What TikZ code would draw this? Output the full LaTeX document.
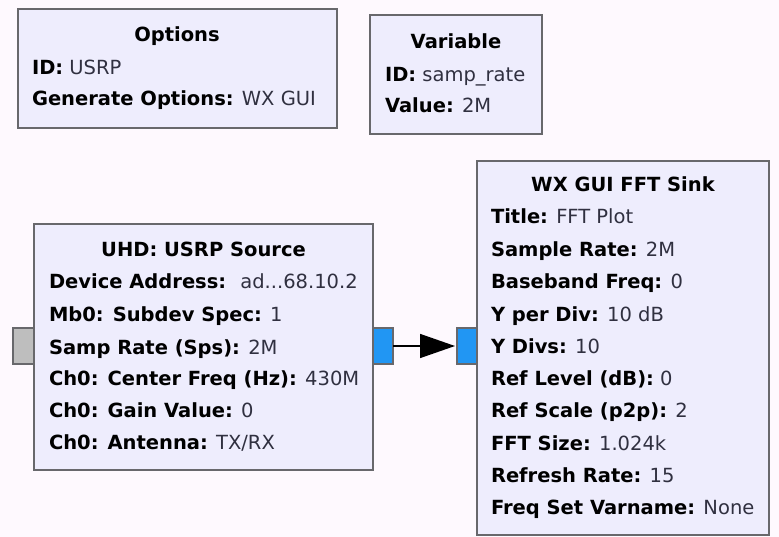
\documentclass[tikz,border=0pt]{standalone}
\usepackage{fontspec}
\setmainfont{DejaVu Sans}
\usetikzlibrary{arrows.meta}
\definecolor{bgcol}{RGB}{254,249,254}
\definecolor{boxfill}{RGB}{238,237,253}
\definecolor{boxline}{RGB}{104,104,108}
\definecolor{valcol}{RGB}{48,48,64}
\definecolor{portblue}{RGB}{33,150,243}
\definecolor{portgray}{RGB}{190,190,190}
\newcommand\kv[2]{{\bfseries\color{black}#1} #2}
\tikzset{
  blockbox/.style={draw=boxline, fill=boxfill, line width=1.5pt, inner sep=0pt, outer sep=0pt, anchor=north west},
  lab/.style={inner sep=0pt, outer sep=0pt, anchor=base west, text=valcol, font=\fontsize{19.5}{24}\selectfont},
  ttl/.style={inner sep=0pt, outer sep=0pt, anchor=base, text=black, font=\fontsize{19.5}{24}\selectfont\bfseries},
  portb/.style={draw=boxline, fill=portblue, line width=1.2pt, inner sep=0pt, outer sep=0pt, minimum width=20pt, minimum height=36pt, anchor=north west},
  portg/.style={draw=boxline, fill=portgray, line width=1.2pt, inner sep=0pt, outer sep=0pt, minimum width=21pt, minimum height=36pt, anchor=north west},
  conn/.style={draw=black, line width=1.5pt, -{Triangle[length=35pt,width=24pt]}, shorten >=2pt}
}
\begin{document}
\begin{tikzpicture}[x=1pt,y=-1pt]
\fill[bgcol] (0,0) rectangle (779,537);
\useasboundingbox (0,0) rectangle (779,537);
% Options
\node[blockbox, minimum width=319pt, minimum height=119pt] (opt) at (18,9) {};
\node[ttl] (optT) at (177,42) {Options};
\node[lab] (opt1) at (32,75) {\kv{ID:}{USRP}};
\node[lab] (opt2) at (32,106) {\kv{Generate Options:}{WX GUI}};
% Variable
\node[blockbox, minimum width=172pt, minimum height=119pt] (var) at (370,15) {};
\node[ttl] (varT) at (456,49) {Variable};
\node[lab] (var1) at (385,82) {\kv{ID:}{samp\_rate}};
\node[lab] (var2) at (385,113) {\kv{Value:}{2M}};
% UHD
\node[portg] (pin) at (13,328) {};
\node[blockbox, minimum width=339pt, minimum height=246pt] (uhd) at (34,224) {};
\node[portb] (pout) at (373,328) {};
\node[ttl] (uhdT) at (203.5,257) {UHD: USRP Source};
\node[lab] (uhd1) at (49,289) {\kv{Device Address:}{\hspace{0.3em}ad...68.10.2}};
\node[lab] (uhd2) at (49,321) {\kv{Mb0: Subdev Spec:}{1}};
\node[lab] (uhd3) at (49,354) {\kv{Samp Rate (Sps):}{2M}};
\node[lab] (uhd4) at (49,385) {\kv{Ch0: Center Freq (Hz):}{430M}};
\node[lab] (uhd5) at (49,417) {\kv{Ch0: Gain Value:}{0}};
\node[lab] (uhd6) at (49,449) {\kv{Ch0: Antenna:}{TX/RX}};
% FFT
\node[portb] (fin) at (457,328) {};
\node[blockbox, minimum width=292pt, minimum height=374pt] (fft) at (477,161) {};
\node[ttl] (fftT) at (623,192) {WX GUI FFT Sink};
\node[lab] (f1) at (491,224) {\kv{Title:}{FFT Plot}};
\node[lab] (f2) at (491,257) {\kv{Sample Rate:}{2M}};
\node[lab] (f3) at (491,289) {\kv{Baseband Freq:}{0}};
\node[lab] (f4) at (491,321) {\kv{Y per Div:}{10 dB}};
\node[lab] (f5) at (491,353) {\kv{Y Divs:}{10}};
\node[lab] (f6) at (491,385) {\kv{Ref Level (dB):}{0}};
\node[lab] (f7) at (491,417) {\kv{Ref Scale (p2p):}{2}};
\node[lab] (f8) at (491,450) {\kv{FFT Size:}{1.024k}};
\node[lab] (f9) at (491,482) {\kv{Refresh Rate:}{15}};
\node[lab] (f10) at (491,514) {\kv{Freq Set Varname:}{None}};
% connector
\draw[conn] (pout.east) -- (fin.west);
\end{tikzpicture}
\end{document}
